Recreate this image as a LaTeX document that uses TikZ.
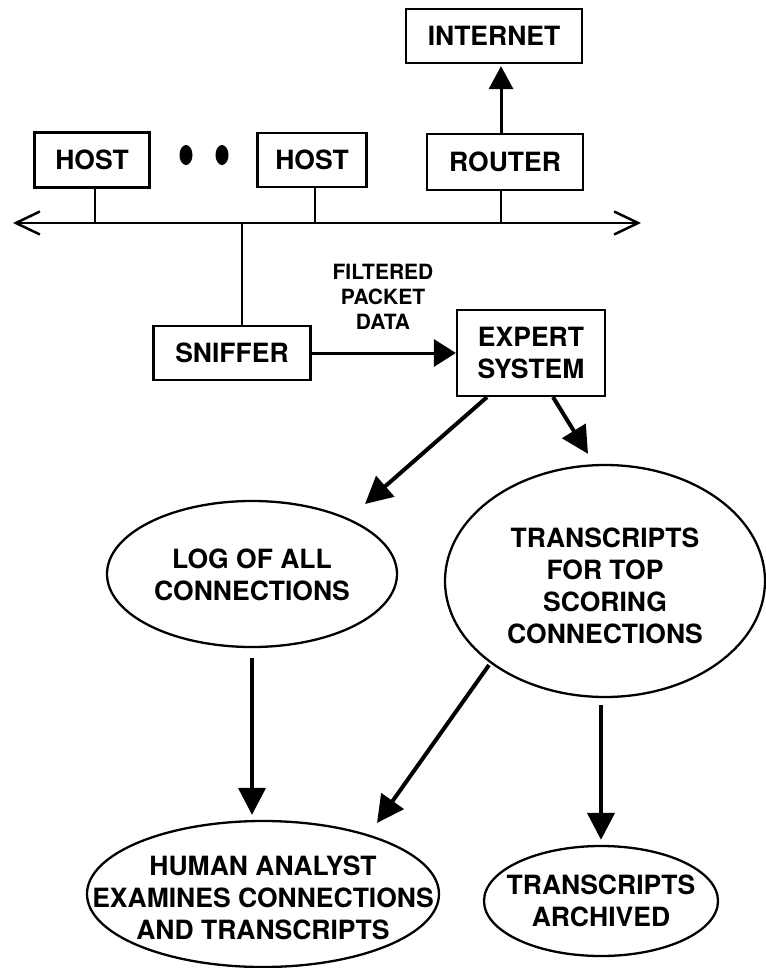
\documentclass[tikz,border=0pt]{standalone}
\usepackage{fontspec}
\setmainfont{TeX Gyre Heros}
\usetikzlibrary{arrows.meta,calc,shapes.geometric}
\begin{document}
\begin{tikzpicture}[x=1pt,y=-1pt,
  every node/.style={font=\bfseries\fontsize{26.5}{32}\selectfont, align=center, inner sep=0pt},
  box/.style={draw, line width=2.2pt, rectangle},
  oval/.style={draw, line width=2.3pt, ellipse},
  dot/.style={fill, ellipse, minimum width=13pt, minimum height=20pt},
  tap/.style={line width=2pt},
  flow/.style={line width=3pt, -{Triangle[length=23pt,width=24pt]}},
  heavy/.style={line width=4pt, -{Triangle[length=27pt,width=27pt]}},
  smalltext/.style={font=\bfseries\fontsize{21}{25}\selectfont},
]
\useasboundingbox (0,0) rectangle (765,968);

% network boxes
\node[box, minimum width=176pt, minimum height=54pt] (internet) at (494,36) {INTERNET};
\node[box, minimum width=115pt, minimum height=55pt] (host1) at (92,160) {HOST};
\node[dot] (dot1) at (186,155) {};
\node[dot] (dot2) at (222,155) {};
\node[box, minimum width=109pt, minimum height=54pt] (host2) at (312,160) {HOST};
\node[box, minimum width=156pt, minimum height=56pt] (router) at (505,162) {ROUTER};

% the shared network segment
\coordinate (busL) at (13,223);
\coordinate (busR) at (641,223);
\draw[line width=2.5pt, {Straight Barb[length=24pt,width=23pt]}-{Straight Barb[length=24pt,width=23pt]}] (busL) -- (busR);

% sniffer and expert system
\node[box, minimum width=157pt, minimum height=54pt] (sniffer) at (232,353) {SNIFFER};
\node[box, minimum width=148pt, minimum height=86pt] (expert) at (531,353) {EXPERT\\SYSTEM};
\node[smalltext] (filtered) at (383,297) {FILTERED\\PACKET\\DATA};

% outputs
\node[oval, minimum width=290pt, minimum height=146pt,
      label={[yshift=-1pt]center:LOG OF ALL\\CONNECTIONS}] (log) at (252,574) {};
\node[oval, minimum width=320pt, minimum height=232pt,
      label={[yshift=-5pt]center:TRANSCRIPTS\\FOR TOP\\SCORING\\CONNECTIONS}] (trans) at (605,581) {};
\node[oval, minimum width=352pt, minimum height=146pt,
      label={[yshift=-4pt]center:HUMAN ANALYST\\EXAMINES CONNECTIONS\\AND TRANSCRIPTS}] (human) at (263,894) {};
\node[oval, minimum width=234pt, minimum height=110pt,
      label={center:TRANSCRIPTS\\ARCHIVED}] (archived) at (601,901) {};

% taps onto the segment
\draw[tap] ([xshift=3pt]host1.south) -- ([xshift=3pt]host1.south |- busL);
\draw[tap] ([xshift=3pt]host2.south) -- ([xshift=3pt]host2.south |- busL);
\draw[tap] ([xshift=-4pt]router.south) -- ([xshift=-4pt]router.south |- busL);
\draw[tap] ([xshift=10pt]sniffer.north) -- ([xshift=10pt]sniffer.north |- busL);

% data flow
\draw[flow] ([xshift=-4pt]router.north) -- ([xshift=-4pt,yshift=-2pt]router.north |- internet.south);
\draw[flow, -{Triangle[length=22pt,width=27pt]}] (sniffer.east) -- (expert.west |- sniffer.east);
\draw[heavy] ([xshift=-44pt]expert.south) -- ([xshift=113pt,yshift=70pt]log.center);
\draw[heavy] ([xshift=22pt]expert.south) -- ([xshift=-17pt,yshift=10pt]trans.north);
\draw[heavy] ([yshift=-10pt]log.south) -- ([yshift=5pt]log.south |- human.north);
\draw[heavy] ([xshift=-116pt,yshift=-84pt]trans.center) -- ([xshift=114pt,yshift=71pt]human.center);
\draw[heavy] ([xshift=-4pt,yshift=-7pt]trans.south) -- ([yshift=5pt]archived.north);
\end{tikzpicture}
\end{document}
